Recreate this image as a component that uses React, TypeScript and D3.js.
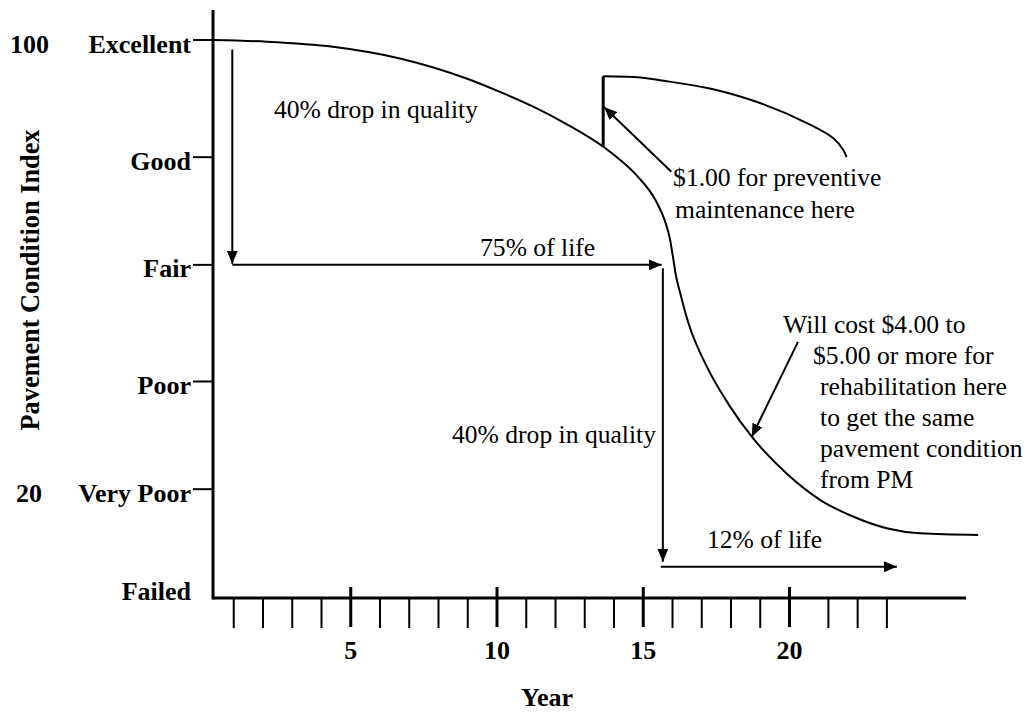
import React from 'react';
import * as d3 from 'd3';

// ---- data ----
const conditionLabels = ['Excellent', 'Good', 'Fair', 'Poor', 'Very Poor', 'Failed'];
const conditionPci = [100, 79, 59.7, 38.8, 19.5, 0];
const pciNumberLabels = ['100', '', '', '', '20', ''];

const majorYears = [5, 10, 15, 20];
const minorYears = [1, 2, 3, 4, 6, 7, 8, 9, 11, 12, 13, 14, 16, 17, 18, 19, 21.33, 22.33, 23.33];

// deterioration curve without preventive maintenance
const curveYears = [0.29, 2.13, 4.39, 6.68, 8.96, 10.1, 11.22, 12.39, 13.6, 14.2, 14.79, 15.44, 15.74, 15.91, 16.02, 16.12, 16.26, 16.53, 17.17, 17.97, 18.71, 19.9, 21.04, 22.17, 23.32, 24.46, 26.45];
const curvePci = [100, 99.7, 98.8, 96.7, 93.1, 90.7, 88.1, 84.9, 81.0, 78.55, 75.65, 71.1, 67.6, 64.4, 61.0, 57.7, 54.7, 49.5, 41.5, 34.3, 28.9, 22.3, 17.6, 14.6, 12.5, 11.6, 11.3];

// curve after preventive maintenance
const pmYear = 13.63;
const pmBasePci = 80.9;
const pmYears = [13.63, 14.9, 15.57, 17.28, 18.99, 20.72, 21.5, 21.84, 21.95];
const pmPci = [93.5, 93.3, 92.8, 91.3, 88.7, 84.8, 82.4, 80.3, 79.0];

// arrows: from (year, pci) to (year, pci)
const arrowFromYear = [0.95, 0.95, 15.67, 15.6, 15.96, 20.29];
const arrowFromPci = [98.3, 59.7, 59.1, 5.6, 76.4, 45.9];
const arrowToYear = [0.95, 15.63, 15.67, 23.67, 13.66, 18.71];
const arrowToPci = [59.9, 59.7, 6.5, 5.6, 88.0, 28.9];

// annotations
const noteLines = [
  ['40% drop in quality'],
  ['$1.00 for preventive', 'maintenance here'],
  ['75% of life'],
  ['40% drop in quality'],
  ['Will cost $4.00 to', '$5.00 or more for', 'rehabilitation here', 'to get the same', 'pavement condition', 'from PM'],
  ['12% of life'],
];
const noteYear = [2.376, 16.02, 9.42, 8.46, 19.78, 17.18];
const notePci = [86.0, 73.84, 61.29, 27.78, 47.5, 8.96];
const noteLineIndent = [
  [0],
  [0, 2],
  [0],
  [0],
  [0, 30, 37, 37, 37, 37],
  [0],
];

const W = 1032;
const H = 713;
const AXIS_X = 213;
const AXIS_TOP = 10;
const AXIS_RIGHT = 966;
const SERIF = "'Liberation Serif', 'DejaVu Serif', serif";

export default function App() {
  const x = d3.scaleLinear().domain([0, 20]).range([204.5, 789.5]);
  const y = d3.scaleLinear().domain([0, 100]).range([598, 40]);
  const baseY = y(0);

  const line = d3
    .line<[number, number]>()
    .x((d) => x(d[0]))
    .y((d) => y(d[1]))
    .curve(d3.curveMonotoneX);
  const lineCR = d3
    .line<[number, number]>()
    .x((d) => x(d[0]))
    .y((d) => y(d[1]))
    .curve(d3.curveCatmullRom.alpha(0.5));

  const mainPath = line(curveYears.map((yr, i) => [yr, curvePci[i]] as [number, number])) || '';
  const pmPath = lineCR(pmYears.map((yr, i) => [yr, pmPci[i]] as [number, number])) || '';

  const lineHeight = 31;
  const txt = { fontFamily: SERIF } as React.CSSProperties;

  return (
    <svg
      width={W}
      height={H}
      viewBox={`0 0 ${W} ${H}`}
      style={{ position: 'absolute', left: 0, top: 0, background: '#fff', fontFamily: SERIF }}
    >
      <defs>
        <marker
          id="ah"
          viewBox="0 0 13 11"
          refX={13}
          refY={5.5}
          markerWidth={13}
          markerHeight={11}
          markerUnits="userSpaceOnUse"
          orient="auto"
        >
          <path d="M0,0 L13,5.5 L0,11 Z" fill="#000" />
        </marker>
      </defs>
      <rect x={0} y={0} width={W} height={H} fill="#fff" />

      {/* axes */}
      <line x1={AXIS_X} y1={AXIS_TOP} x2={AXIS_X} y2={baseY + 1.5} stroke="#000" strokeWidth={3} />
      <line x1={AXIS_X} y1={baseY} x2={AXIS_RIGHT} y2={baseY} stroke="#000" strokeWidth={3} />

      {/* y ticks and labels */}
      {conditionLabels.map((lab, i) => {
        const ty = y(conditionPci[i]);
        const isBase = conditionPci[i] === 0;
        const by = isBase ? ty + 2 : ty + 12.5;
        return (
          <g key={lab}>
            {!isBase && (
              <line x1={193} y1={ty} x2={AXIS_X} y2={ty} stroke="#000" strokeWidth={2} />
            )}
            <text x={191} y={by} textAnchor="end" fontWeight="bold" fontSize={26} style={txt}>
              {lab}
            </text>
            {pciNumberLabels[i] && (
              <text x={pciNumberLabels[i].length > 2 ? 10 : 16} y={by} fontWeight="bold" fontSize={26} style={txt}>
                {pciNumberLabels[i]}
              </text>
            )}
          </g>
        );
      })}

      {/* y title */}
      <text
        transform={`translate(39, 280) rotate(-90)`}
        textAnchor="middle"
        fontWeight="bold"
        fontSize={26.3}
        style={txt}
      >
        Pavement Condition Index
      </text>

      {/* x ticks */}
      {minorYears.map((yr) => (
        <line key={'m' + yr} x1={x(yr)} y1={baseY} x2={x(yr)} y2={baseY + 30} stroke="#000" strokeWidth={2} />
      ))}
      {majorYears.map((yr) => (
        <g key={'M' + yr}>
          <line x1={x(yr)} y1={baseY - 11} x2={x(yr)} y2={baseY + 29} stroke="#000" strokeWidth={3} />
          <text x={x(yr)} y={659} textAnchor="middle" fontWeight="bold" fontSize={26} style={txt}>
            {yr}
          </text>
        </g>
      ))}
      <text x={547} y={706} textAnchor="middle" fontWeight="bold" fontSize={26} style={txt}>
        Year
      </text>

      {/* curves */}
      <line x1={AXIS_X} y1={y(100)} x2={x(curveYears[0])} y2={y(curvePci[0])} stroke="#000" strokeWidth={2} />
      <path d={mainPath} fill="none" stroke="#000" strokeWidth={2} />
      <line x1={x(pmYear)} y1={y(pmBasePci)} x2={x(pmYear)} y2={y(pmPci[0])} stroke="#000" strokeWidth={3} />
      <path d={pmPath} fill="none" stroke="#000" strokeWidth={2} />

      {/* arrows */}
      {arrowFromYear.map((yr, i) => (
        <line
          key={'a' + i}
          x1={x(yr)}
          y1={y(arrowFromPci[i])}
          x2={x(arrowToYear[i])}
          y2={y(arrowToPci[i])}
          stroke="#000"
          strokeWidth={2}
          markerEnd="url(#ah)"
        />
      ))}

      {/* annotations */}
      {noteLines.map((lines, i) => (
        <text key={'n' + i} fontSize={25.6} fill="#000" style={txt}>
          {lines.map((t, j) => (
            <tspan key={j} x={x(noteYear[i]) + noteLineIndent[i][j]} y={y(notePci[i]) + j * (i === 1 ? 32 : lineHeight)}>
              {t}
            </tspan>
          ))}
        </text>
      ))}
    </svg>
  );
}
